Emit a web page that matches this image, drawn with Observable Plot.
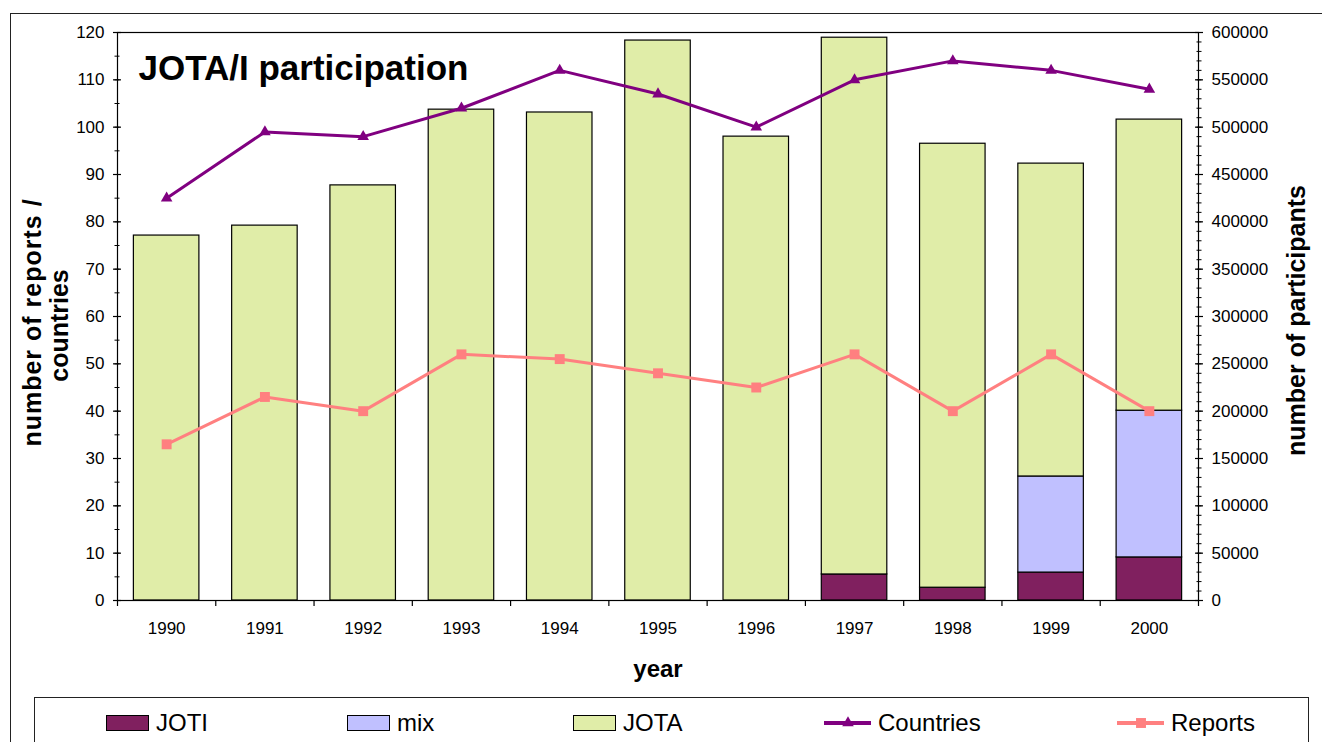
<!DOCTYPE html>
<html>
<head>
<meta charset="utf-8">
<script src="https://cdn.jsdelivr.net/npm/d3@7"></script>
<script src="https://cdn.jsdelivr.net/npm/@observablehq/plot@0.6"></script>
<style>
  html, body { margin: 0; padding: 0; background: #fff; }
  #wrap { position: relative; width: 1322px; height: 742px; overflow: hidden; background: #fff;
          font-family: "Liberation Sans", Arial, sans-serif; }
  #outer { position: absolute; left: 10px; top: 13px; width: 1400px; height: 800px; border: 1px solid #222; }
  #chart { position: absolute; left: 0; top: 0; }
  #legend { position: absolute; left: 34px; top: 697px; width: 1273px; height: 80px; border: 1px solid #222; background: #fff; }
  .item { position: absolute; top: 10px; height: 30px; display: flex; align-items: center; font-size: 24px; color: #000; }
  .sw { width: 43px; height: 16px; border: 1px solid #000; margin-right: 7px; box-sizing: border-box; }
  .ln { position: relative; width: 47px; height: 4px; margin-right: 7px; }
  .ln .bar { position: absolute; left: 0; top: 0; width: 47px; height: 4px; }
</style>
</head>
<body>
<div id="wrap">
  <div id="outer"></div>
  <div id="chart"></div>
  <div id="legend"></div>
</div>
<script>
// ---- data ----
const years = [1990, 1991, 1992, 1993, 1994, 1995, 1996, 1997, 1998, 1999, 2000];
const joti = [0, 0, 0, 0, 0, 0, 0, 27500, 13500, 29500, 45500];
const mix = [0, 0, 0, 0, 0, 0, 0, 0, 0, 101500, 155000];
const jota = [385500, 396000, 438500, 518500, 515500, 591500, 490000, 567000, 469000, 330500, 307500];
const countries = [85, 99, 98, 104, 112, 107, 100, 110, 114, 112, 108];
const reports = [33, 43, 40, 52, 51, 48, 45, 52, 40, 52, 40];
const leftTicks = d3.range(0, 121, 10);
const leftMinor = d3.range(0, 121, 5);
const rightMinor = d3.range(0, 121, 2);

const seriesNames = ["JOTI", "mix", "JOTA"];
const seriesValues = [joti, mix, jota];
const colors = {JOTI: "#80205F", mix: "#C0C0FF", JOTA: "#E0EDA8", Countries: "#800080", Reports: "#FF8080"};
const ratio = 5000; // participants per left-axis unit

// stacked rectangles
const rects = [];
years.forEach((yr, i) => {
  let base = 0;
  seriesNames.forEach((s, k) => {
    const v = seriesValues[k][i];
    if (v > 0) rects.push({year: yr, series: s, y1: base / ratio, y2: (base + v) / ratio});
    base += v;
  });
});
const pts = years.map((yr, i) => ({year: yr, countries: countries[i], reports: reports[i]}));
const boundaries = d3.range(years.length + 1).map(i => years[0] - 0.5 + i);
const half = 1 / 3;

const fontFamily = '"Liberation Sans", Arial, sans-serif';

const chart = Plot.plot({
  width: 1322,
  height: 690,
  marginLeft: 117,
  marginRight: 124,
  marginTop: 32,
  marginBottom: 90,
  x: {domain: [years[0] - 0.5, years[years.length - 1] + 0.5], axis: null},
  y: {domain: [0, 120], axis: null},
  style: {fontFamily, fontSize: "17px", color: "#000", background: "transparent"},
  marks: [
    Plot.rectY(rects, {
      x1: d => d.year - half, x2: d => d.year + half, y1: "y1", y2: "y2",
      fill: d => colors[d.series], stroke: "#000", strokeWidth: 1.2
    }),
    Plot.frame({stroke: "#000", strokeWidth: 1.2}),
    // left axis
    Plot.axisY(leftTicks, {anchor: "left", label: null, tickSize: 8, dx: 4, tickFormat: () => "", strokeWidth: 1.2}),
    Plot.axisY(leftMinor, {anchor: "left", label: null, tickSize: 5, dx: 2.5, tickFormat: () => "", strokeWidth: 1}),
    Plot.axisY(leftTicks, {anchor: "left", label: null, tickSize: 0, tickPadding: 13, fontSize: 17}),
    // right axis (participants)
    Plot.axisY(leftTicks, {anchor: "right", label: null, tickSize: 8, dx: -4, tickFormat: () => "", strokeWidth: 1.2}),
    Plot.axisY(rightMinor, {anchor: "right", label: null, tickSize: 5, dx: -2.5, tickFormat: () => "", strokeWidth: 1}),
    Plot.axisY(leftTicks, {anchor: "right", label: null, tickSize: 0, tickPadding: 13, fontSize: 17, tickFormat: d => String(d * ratio)}),
    // x axis
    Plot.axisX(boundaries, {anchor: "bottom", label: null, tickSize: 6, tickFormat: () => "", strokeWidth: 1.2}),
    Plot.axisX(years, {anchor: "bottom", label: null, tickSize: 0, tickPadding: 21, fontSize: 17, tickFormat: d => String(d)}),
    // lines
    Plot.line(pts, {x: "year", y: "countries", stroke: colors.Countries, strokeWidth: 3}),
    Plot.dot(pts, {x: "year", y: "countries", symbol: "triangle", r: 4.3, fill: colors.Countries}),
    Plot.line(pts, {x: "year", y: "reports", stroke: colors.Reports, strokeWidth: 3}),
    Plot.dot(pts, {x: "year", y: "reports", symbol: "square", r: 5.6, fill: colors.Reports}),
    // titles
    Plot.text(["JOTA/I participation"], {frameAnchor: "top-left", textAnchor: "start", lineAnchor: "top",
      dx: 21, dy: 23, fontSize: 35, fontWeight: "bold", fill: "#000"}),
    Plot.text(["year"], {frameAnchor: "bottom", textAnchor: "middle", lineAnchor: "middle", dy: 69, fontSize: 24, fontWeight: "bold", fill: "#000"}),
    Plot.text(["number of reports /"], {frameAnchor: "left", rotate: -90, textAnchor: "middle", lineAnchor: "middle",
      dx: -85, dy: 6, fontSize: 25, fontWeight: "bold", fill: "#000", className: "ltitle1"}),
    Plot.text(["countries"], {frameAnchor: "left", rotate: -90, textAnchor: "middle", lineAnchor: "middle",
      dx: -58, dy: 9, fontSize: 25, fontWeight: "bold", fill: "#000"}),
    Plot.text(["number of participants"], {frameAnchor: "right", rotate: -90, textAnchor: "middle", lineAnchor: "middle",
      dx: 98, dy: 4, fontSize: 25, fontWeight: "bold", fill: "#000"})
  ]
});
// widen the first line of the left title slightly, as in the original
d3.select(chart).selectAll("g.ltitle1 text").style("letter-spacing", "1px");
document.getElementById("chart").appendChild(chart);

// ---- legend ----
const legendItems = [
  {name: "JOTI", kind: "sw", left: 71},
  {name: "mix", kind: "sw", left: 312},
  {name: "JOTA", kind: "sw", left: 538},
  {name: "Countries", kind: "ln", left: 789, symbol: "triangle"},
  {name: "Reports", kind: "ln", left: 1082, symbol: "square"}
];
const legend = document.getElementById("legend");
legendItems.forEach(it => {
  const div = document.createElement("div");
  div.className = "item";
  div.style.left = it.left + "px";
  if (it.kind === "sw") {
    const sw = document.createElement("div");
    sw.className = "sw";
    sw.style.background = colors[it.name];
    div.appendChild(sw);
  } else {
    const ln = document.createElement("div");
    ln.className = "ln";
    const bar = document.createElement("div");
    bar.className = "bar";
    bar.style.background = colors[it.name];
    ln.appendChild(bar);
    const svg = d3.create("svg").attr("width", 16).attr("height", 16)
      .style("position", "absolute").style("left", "15.5px").style("top", "-6px");
    const sym = it.symbol === "triangle" ? d3.symbolTriangle : d3.symbolSquare;
    const size = it.symbol === "triangle" ? Math.PI * 4.3 * 4.3 : Math.PI * 5.6 * 5.6;
    svg.append("path").attr("transform", "translate(8,8)")
      .attr("d", d3.symbol(sym, size)()).attr("fill", colors[it.name]);
    ln.appendChild(svg.node());
    div.appendChild(ln);
  }
  const t = document.createElement("span");
  t.textContent = it.name;
  div.appendChild(t);
  legend.appendChild(div);
});
</script>
</body>
</html>
